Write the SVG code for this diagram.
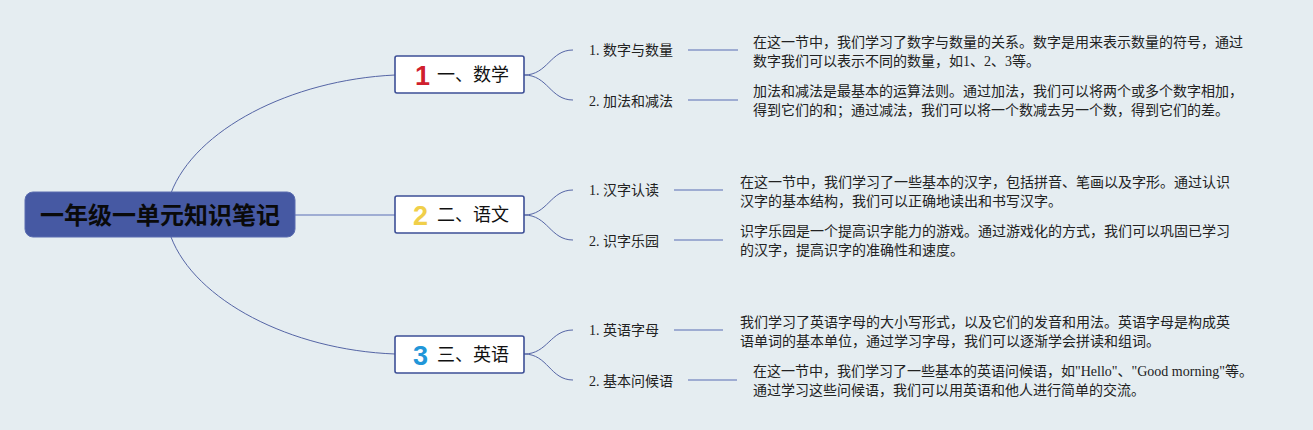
<svg xmlns="http://www.w3.org/2000/svg" width="1313" height="430" viewBox="0 0 1313 430">
<style>
.t{font-family:"Liberation Serif","Noto Sans CJK SC",serif;font-size:14px;fill:#222}
.lab{font-family:"Liberation Serif","Noto Sans CJK SC",serif;font-size:14px;fill:#222}
.br{font-family:"Noto Sans CJK SC",sans-serif;font-size:18px;fill:#111}
.num{font-family:"Liberation Sans",sans-serif;font-size:27px;font-weight:bold}
.box{fill:#fff;stroke:#3d4f96;stroke-width:1.6}
.c{fill:none;stroke:#5565a5;stroke-width:1}
.ln{fill:none;stroke:#8797c8;stroke-width:1.5}
</style>
<rect width="1313" height="430" fill="#e5edf1"/>
<g id="connectors">
<path class="c" d="M171,193 C195,130 290,80 395,75"/>
<path class="c" d="M171,237 C195,300 290,350 395,354"/>
<path class="ln" d="M295,215 H395"/>
<path class="c" d="M524,75 C548,75 550,50 573,50 M524,75 C548,75 550,100 573,100"/>
<path class="c" d="M524,215 C548,215 550,190 573,190 M524,215 C548,215 550,240 573,240"/>
<path class="c" d="M524,354 C548,354 550,330 573,330 M524,354 C548,354 550,380 573,380"/>
<path class="ln" d="M688,50 H738 M688,100 H738 M674,190 H723 M674,240 H723 M674,330 H723 M688,380 H737"/>
</g>
<g id="root">
<rect x="25" y="192" width="270" height="45" rx="8" fill="#4659a3" stroke="#5b6db0" stroke-width="1"/>
<text x="160" y="224" text-anchor="middle" font-family="'Noto Sans CJK SC',sans-serif" font-size="24" font-weight="bold" fill="#0a0a0a">一年级一单元知识笔记</text>
</g>
<g id="n1">
<rect class="box" x="395" y="56" width="129" height="37" rx="2"/>
<text class="num" x="415" y="85" fill="#d01f2e">1</text>
<text class="br" x="437" y="81">一、数学</text>
</g>
<g id="n2">
<rect class="box" x="395" y="196" width="129" height="37" rx="2"/>
<text class="num" x="413" y="225" fill="#f0cf4a">2</text>
<text class="br" x="437" y="221">二、语文</text>
</g>
<g id="n3">
<rect class="box" x="395" y="336" width="129" height="37" rx="2"/>
<text class="num" x="413" y="365" fill="#2196d8">3</text>
<text class="br" x="437" y="361">三、英语</text>
</g>
<g id="s11"><text class="lab" x="589" y="55">1. 数字与数量</text></g>
<g id="s12"><text class="lab" x="589" y="106">2. 加法和减法</text></g>
<g id="s21"><text class="lab" x="589" y="195">1. 汉字认读</text></g>
<g id="s22"><text class="lab" x="589" y="246">2. 识字乐园</text></g>
<g id="s31"><text class="lab" x="589" y="335">1. 英语字母</text></g>
<g id="s32"><text class="lab" x="589" y="386">2. 基本问候语</text></g>
<g id="d11"><text class="t" x="753" y="47">在这一节中，我们学习了数字与数量的关系。数字是用来表示数量的符号，通过</text><text class="t" x="753" y="66">数字我们可以表示不同的数量，如1、2、3等。</text></g>
<g id="d12"><text class="t" x="753" y="96">加法和减法是最基本的运算法则。通过加法，我们可以将两个或多个数字相加，</text><text class="t" x="753" y="115">得到它们的和；通过减法，我们可以将一个数减去另一个数，得到它们的差。</text></g>
<g id="d21"><text class="t" x="740" y="187">在这一节中，我们学习了一些基本的汉字，包括拼音、笔画以及字形。通过认识</text><text class="t" x="740" y="206">汉字的基本结构，我们可以正确地读出和书写汉字。</text></g>
<g id="d22"><text class="t" x="740" y="236">识字乐园是一个提高识字能力的游戏。通过游戏化的方式，我们可以巩固已学习</text><text class="t" x="740" y="255">的汉字，提高识字的准确性和速度。</text></g>
<g id="d31"><text class="t" x="740" y="327">我们学习了英语字母的大小写形式，以及它们的发音和用法。英语字母是构成英</text><text class="t" x="740" y="346">语单词的基本单位，通过学习字母，我们可以逐渐学会拼读和组词。</text></g>
<g id="d32"><text class="t" x="753" y="376">在这一节中，我们学习了一些基本的英语问候语，如"Hello"、"Good morning"等。</text><text class="t" x="753" y="395">通过学习这些问候语，我们可以用英语和他人进行简单的交流。</text></g>
</svg>
